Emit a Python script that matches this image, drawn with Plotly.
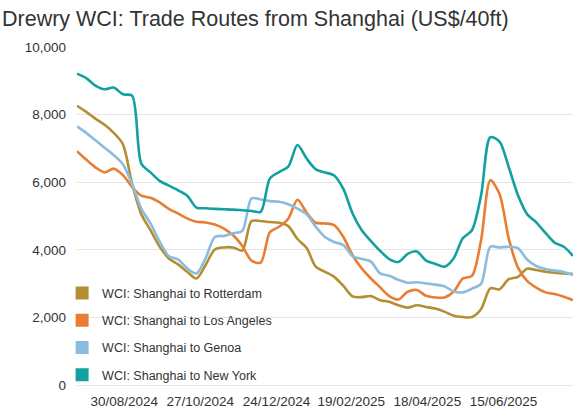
import plotly.graph_objects as go

# weekly WCI assessment dates (Thursdays)
dates = [
    "2024-07-25", "2024-08-01", "2024-08-08", "2024-08-15", "2024-08-22", "2024-08-29",
    "2024-09-05", "2024-09-12", "2024-09-19", "2024-09-26", "2024-10-03", "2024-10-10",
    "2024-10-17", "2024-10-24", "2024-10-31", "2024-11-07", "2024-11-14", "2024-11-21",
    "2024-11-28", "2024-12-05", "2024-12-12", "2024-12-19", "2024-12-26", "2025-01-02",
    "2025-01-09", "2025-01-16", "2025-01-23", "2025-01-30", "2025-02-06", "2025-02-13",
    "2025-02-20", "2025-02-27", "2025-03-06", "2025-03-13", "2025-03-20", "2025-03-27",
    "2025-04-03", "2025-04-10", "2025-04-17", "2025-04-24", "2025-05-01", "2025-05-08",
    "2025-05-15", "2025-05-22", "2025-05-29", "2025-06-05", "2025-06-12", "2025-06-19",
    "2025-06-26", "2025-07-03", "2025-07-10", "2025-07-17", "2025-07-24", "2025-07-31",
    "2025-08-07",
]

rotterdam = [
    8260, 8080, 7880, 7700, 7460, 7120, 5950, 5055, 4580, 4090, 3745, 3570,
    3350, 3150, 3550, 4010, 4070, 4070, 3980, 4850, 4850, 4820, 4800, 4700,
    4320, 4050, 3500, 3350, 3200, 2930, 2620, 2600, 2630, 2510, 2460, 2360,
    2290, 2360, 2310, 2260, 2170, 2050, 2010, 2010, 2250, 2860, 2830, 3130,
    3200, 3440, 3400, 3350, 3320, 3300, 3290,
]

los_angeles = [
    6920, 6670, 6440, 6290, 6400, 6210, 5860, 5600, 5540, 5400, 5210, 5075,
    4930, 4830, 4810, 4750, 4630, 4430, 4110, 3680, 3620, 4520, 4680, 4920,
    5480, 5100, 4800, 4780, 4730, 4380, 3840, 3450, 3150, 2890, 2630, 2530,
    2760, 2810, 2640, 2590, 2590, 2760, 3150, 3230, 4300, 6060, 5650, 4340,
    3480, 3080, 2880, 2740, 2690, 2610, 2510,
]

genoa = [
    7650, 7460, 7240, 7020, 6800, 6530, 5940, 5220, 4780, 4240, 3810, 3715,
    3450, 3300, 3745, 4380, 4410, 4490, 4560, 5520, 5490, 5440, 5420, 5350,
    5220, 5050, 4680, 4380, 4230, 4140, 3810, 3730, 3650, 3300, 3230, 3110,
    3025, 3040, 3005, 2970, 2920, 2770, 2740, 2850, 3000, 4090, 4070, 4090,
    4050, 3715, 3520, 3430, 3390, 3340, 3250,
]

new_york = [
    9210, 9080, 8860, 8750, 8800, 8600, 8560, 6550, 6290, 6040, 5900, 5760,
    5600, 5250, 5230, 5210, 5200, 5190, 5170, 5150, 5120, 6110, 6300, 6460,
    7100, 6700, 6380, 6290, 6200, 5800, 5075, 4580, 4260, 3970, 3725, 3640,
    3880, 3950, 3680, 3590, 3500, 3745, 4340, 4580, 5620, 7330, 7200, 6450,
    5620, 5055, 4810, 4500, 4210, 4090, 3820,
]

series = [
    ("WCI: Shanghai to Rotterdam", rotterdam, "#b38e33"),
    ("WCI: Shanghai to Los Angeles", los_angeles, "#e97d33"),
    ("WCI: Shanghai to Genoa", genoa, "#8cbcdd"),
    ("WCI: Shanghai to New York", new_york, "#12a0a0"),
]

tick_dates = ["2024-08-30", "2024-10-27", "2024-12-24", "2025-02-19", "2025-04-18", "2025-06-15"]
tick_text = ["30/08/2024", "27/10/2024", "24/12/2024", "19/02/2025", "18/04/2025", "15/06/2025"]

FONT = "Liberation Sans, Arial, sans-serif"

fig = go.Figure()

for name, vals, color in series:
    fig.add_trace(go.Scatter(
        x=dates, y=vals, name=name, mode="lines",
        line=dict(color=color, width=2.6, shape="spline", smoothing=0.8),
        showlegend=False,
    ))

# square swatches for the legend
for name, vals, color in series:
    fig.add_trace(go.Scatter(
        x=[None], y=[None], name=name, mode="markers", legendgroup=name,
        marker=dict(symbol="square", size=13, color=color),
    ))

fig.update_layout(
    width=580, height=415,
    margin=dict(l=77, r=7, t=47, b=30, autoexpand=False),
    paper_bgcolor="white", plot_bgcolor="white",
    font=dict(family=FONT, color="#333333"),
    title=dict(
        text="Drewry WCI: Trade Routes from Shanghai (US$/40ft)",
        font=dict(size=21.5, color="#333333"),
        x=0, xanchor="left", xref="container",
        y=0.955, yanchor="middle", yref="container",
        pad=dict(l=2, t=0, b=0, r=0),
    ),
    legend=dict(
        x=-0.03, xanchor="left", y=0.151, yanchor="middle",
        font=dict(size=12.5, color="#333333"),
        bgcolor="rgba(0,0,0,0)", tracegroupgap=8,
    ),
    hovermode=False,
)

fig.update_xaxes(
    type="date", range=[dates[0], dates[-1]],
    tickvals=tick_dates, ticktext=tick_text,
    showgrid=False, showline=False, zeroline=False, ticks="",
    ticklabelstandoff=6,
    tickfont=dict(size=13.5, color="#333333"),
)

fig.update_yaxes(
    range=[0, 10000], tickvals=[0, 2000, 4000, 6000, 8000, 10000],
    tickformat=",d", showgrid=True, gridcolor="#e6e6e6", gridwidth=1,
    zeroline=True, zerolinecolor="#e6e6e6", zerolinewidth=1,
    showline=False, ticks="", ticklabelstandoff=10,
    tickfont=dict(size=13.5, color="#333333"),
)

# drop the page's default body margin so the figure sits at the window's corner
fig.write_html(
    "out.html",
    config={"displayModeBar": False, "staticPlot": True},
    post_script="document.body.style.margin='0';",
)
